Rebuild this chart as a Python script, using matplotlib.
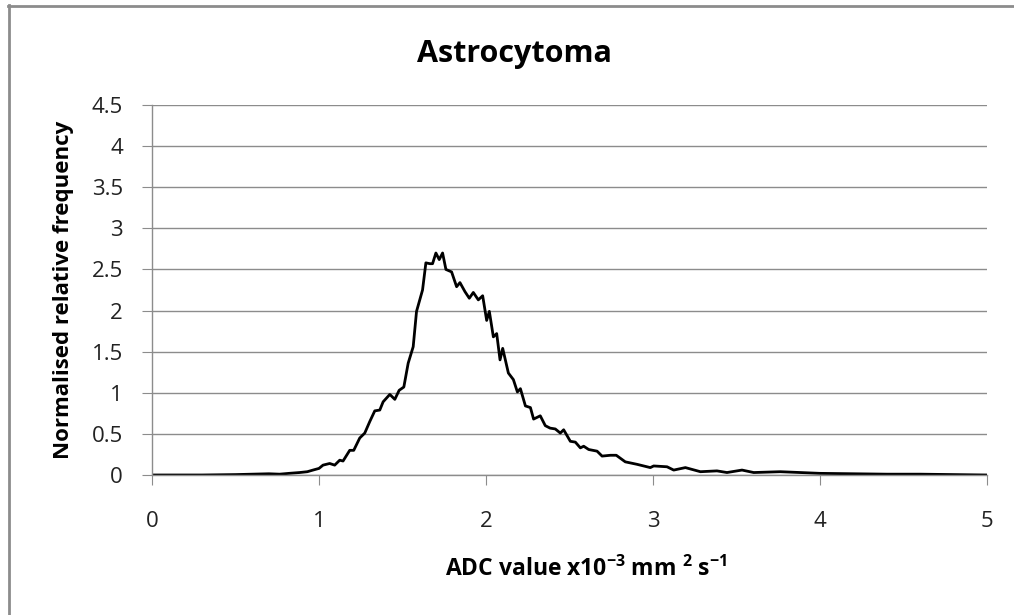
import numpy as np
import matplotlib
matplotlib.use("Agg")
import matplotlib.pyplot as plt
from matplotlib.lines import Line2D

# ADC histogram
adc = [0, 0.3, 0.5, 0.6, 0.7, 0.764, 0.82, 0.884, 0.93, 0.964,
       1.0, 1.024, 1.064, 1.094, 1.124, 1.144, 1.184, 1.208, 1.244, 1.274,
       1.304, 1.334, 1.364, 1.384, 1.424, 1.454, 1.48, 1.508, 1.534, 1.564,
       1.584, 1.62, 1.64, 1.664, 1.68, 1.70, 1.72, 1.74, 1.76, 1.794,
       1.824, 1.844, 1.874, 1.90, 1.924, 1.954, 1.98, 2.004, 2.02, 2.044,
       2.064, 2.084, 2.10, 2.134, 2.164, 2.188, 2.206, 2.236, 2.266, 2.285,
       2.325, 2.355, 2.384, 2.415, 2.445, 2.465, 2.505, 2.535, 2.565, 2.585,
       2.615, 2.665, 2.695, 2.745, 2.78, 2.834, 2.904, 2.984, 3.004, 3.084,
       3.124, 3.194, 3.284, 3.383, 3.443, 3.533, 3.603, 3.762, 3.882, 4.0,
       4.2, 4.4, 4.6, 4.8, 5.0]
freq = [0, 0, 0.005, 0.01, 0.015, 0.01, 0.02, 0.03, 0.04, 0.06,
        0.08, 0.12, 0.14, 0.12, 0.18, 0.17, 0.30, 0.30, 0.45, 0.51,
        0.65, 0.78, 0.79, 0.89, 0.98, 0.92, 1.03, 1.07, 1.36, 1.56,
        1.99, 2.25, 2.58, 2.57, 2.57, 2.70, 2.62, 2.70, 2.50, 2.47,
        2.29, 2.34, 2.23, 2.15, 2.22, 2.13, 2.18, 1.88, 1.99, 1.68,
        1.72, 1.40, 1.54, 1.24, 1.16, 1.01, 1.05, 0.84, 0.82, 0.68,
        0.72, 0.60, 0.57, 0.56, 0.51, 0.55, 0.41, 0.40, 0.33, 0.35,
        0.31, 0.29, 0.23, 0.24, 0.24, 0.16, 0.13, 0.09, 0.11, 0.10,
        0.06, 0.09, 0.04, 0.05, 0.03, 0.06, 0.03, 0.04, 0.03, 0.02,
        0.015, 0.01, 0.01, 0.005, 0.0]

xticks = [0, 1, 2, 3, 4, 5]
yticks = [0, 0.5, 1, 1.5, 2, 2.5, 3, 3.5, 4, 4.5]
ytick_labels = ["0", "0.5", "1", "1.5", "2", "2.5", "3", "3.5", "4", "4.5"]

plt.rcParams['font.family'] = ['Open Sans', 'DejaVu Sans']
plt.rcParams['mathtext.default'] = 'regular'

W, H = 1014, 615
fig = plt.figure(figsize=(W / 100, H / 100), dpi=100)
ax = fig.add_axes([152 / W, (H - 475) / H, (987 - 152) / W, (475 - 105) / H])

ax.plot(adc, freq, color='black', lw=2.0, solid_joinstyle='round')

ax.set_xlim(0, 5)
ax.set_ylim(0, 4.5)
ax.set_xticks(xticks)
ax.set_yticks(yticks)
ax.set_yticklabels(ytick_labels)
ax.grid(axis='y', color='#8c8c8c', lw=1)
ax.set_axisbelow(True)

for s in ['top', 'right']:
    ax.spines[s].set_visible(False)
for s in ['left', 'bottom']:
    ax.spines[s].set_color('#8c8c8c')
    ax.spines[s].set_linewidth(1)

ax.tick_params(axis='x', direction='out', length=7, color='#8c8c8c',
               labelsize=16, pad=19, labelcolor='#222222')
ax.tick_params(axis='y', direction='out', length=7, color='#8c8c8c',
               labelsize=16, pad=14, labelcolor='#222222')

# chart title is centred on the whole chart box, not the plot area
ax.set_title("Astrocytoma", fontsize=22, fontweight='bold', pad=31,
             x=(514 - 152) / (987 - 152))
ax.set_ylabel("Normalised relative frequency", fontsize=16, fontweight='bold', labelpad=13)
ax.set_xlabel(r"ADC value x10$^{-3}$ mm $^{2}$ s$^{-1}$", fontsize=16.5, fontweight='bold', labelpad=18)
ax.xaxis.set_label_coords((586 - 152) / (987 - 152), -0.22)

# outer chart frame (only top and left edges visible in the crop)
fig.add_artist(Line2D([8.5 / W, 8.5 / W], [0, (H - 5) / H], color='#8c8c8c', lw=2))
fig.add_artist(Line2D([8 / W, 1], [(H - 5.5) / H, (H - 5.5) / H], color='#8c8c8c', lw=2))

fig.savefig("out.png", dpi=100)
